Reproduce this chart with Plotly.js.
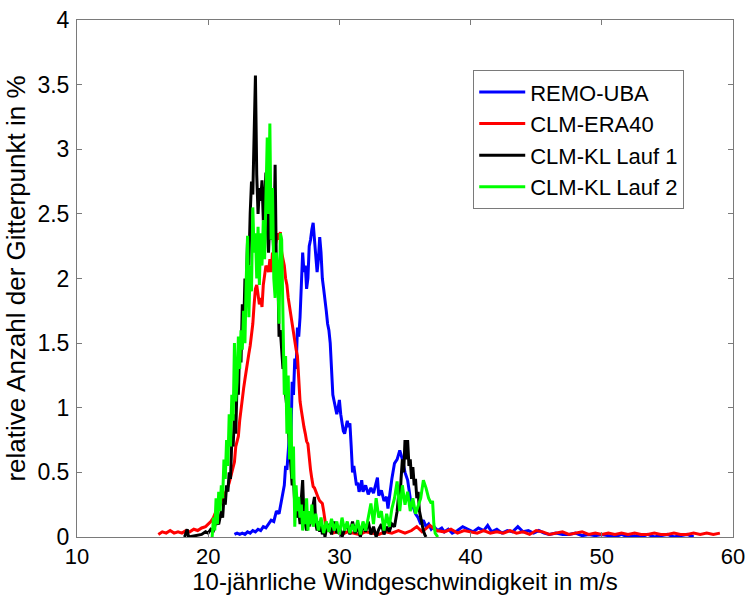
<!DOCTYPE html>
<html>
<head>
<meta charset="utf-8">
<script src="https://cdn.plot.ly/plotly-3.0.1.min.js"></script>
<style>html,body{margin:0;padding:0;background:#fff;}#chart{width:747px;height:595px;}</style>
</head>
<body>
<div id="chart"></div>
<script>
// ---- data ----
const seriesNames = ["REMO-UBA", "CLM-ERA40", "CLM-KL Lauf 1", "CLM-KL Lauf 2"];
const seriesColors = ["#0000FF", "#FF0000", "#000000", "#00FF00"];

const remoX = [22.0,22.2,22.4,22.6,22.8,23.0,23.2,23.4,23.6,23.8,24.0,24.2,24.4,24.6,24.8,25.0,25.2,25.4,25.6,25.8,25.9,26.0,26.2,26.3,26.4,26.5,26.6,26.7,26.8,26.9,27.0,27.1,27.2,27.3,27.4,27.5,27.6,27.7,27.8,27.9,28.0,28.1,28.2,28.3,28.4,28.5,28.6,28.7,28.8,28.9,29.0,29.1,29.2,29.3,29.4,29.5,29.6,29.7,29.8,29.9,30.0,30.1,30.2,30.3,30.4,30.5,30.6,30.7,30.8,30.9,31.0,31.1,31.2,31.3,31.4,31.5,31.6,31.7,31.8,32.0,32.2,32.4,32.6,32.8,32.9,33.0,33.2,33.4,33.6,33.7,33.8,34.0,34.2,34.4,34.6,34.8,35.0,35.2,35.4,35.6,35.8,36.0,36.2,36.4,36.6,36.8,37.0,37.2,37.5,37.8,38.0,38.3,38.6,39.0,39.4,39.8,40.2,40.6,41.0,41.3,41.6,42.0,42.4,42.8,43.2,43.6,44.0,44.4,44.8,45.2,45.6,46.0,46.5,47.0,47.5,48.0,48.5,49.0,49.5,50.0,50.5,51.0,51.5,52.0,52.5,53.0,53.5,54.0,55.0,55.5,56.5,57.0];
const remoY = [0.02,0.03,0.02,0.03,0.02,0.04,0.03,0.05,0.04,0.06,0.05,0.08,0.07,0.10,0.13,0.12,0.20,0.18,0.30,0.40,0.55,0.52,0.80,0.75,1.20,1.10,1.38,1.30,1.62,1.55,1.70,1.95,2.20,2.05,2.10,1.92,2.00,2.25,2.30,2.38,2.43,2.30,2.20,2.05,2.15,2.32,2.20,2.00,1.92,1.85,1.75,1.65,1.60,1.50,1.25,1.10,1.05,1.00,0.95,1.00,1.06,0.95,0.88,0.82,0.80,0.86,0.90,0.85,0.88,0.70,0.50,0.55,0.45,0.40,0.42,0.35,0.38,0.44,0.35,0.40,0.33,0.38,0.34,0.42,0.46,0.32,0.36,0.28,0.31,0.22,0.30,0.45,0.57,0.60,0.67,0.60,0.50,0.44,0.30,0.23,0.18,0.15,0.10,0.13,0.08,0.10,0.06,0.08,0.05,0.07,0.04,0.06,0.03,0.05,0.08,0.06,0.04,0.07,0.05,0.09,0.04,0.06,0.03,0.05,0.04,0.08,0.04,0.05,0.03,0.05,0.03,0.02,0.03,0.02,0.02,0.03,0.01,0.02,0.01,0.02,0.01,0.00,0.02,0.00,0.01,0.00,0.02,0.00,0.02,0.00,0.02,0.00];

const eraX = [16.2,16.5,16.8,17.1,17.4,17.7,18.0,18.3,18.6,18.9,19.2,19.5,19.8,20.0,20.2,20.4,20.6,20.8,21.0,21.2,21.4,21.6,21.8,22.0,22.1,22.2,22.3,22.4,22.5,22.6,22.7,22.8,22.9,23.0,23.1,23.2,23.3,23.4,23.5,23.6,23.7,23.8,23.9,24.0,24.1,24.2,24.3,24.4,24.5,24.6,24.7,24.8,24.9,25.0,25.1,25.2,25.3,25.4,25.5,25.6,25.7,25.8,25.9,26.0,26.1,26.2,26.3,26.4,26.5,26.6,26.7,26.8,26.9,27.0,27.1,27.2,27.3,27.4,27.5,27.6,27.7,27.8,27.9,28.0,28.1,28.2,28.3,28.4,28.5,28.6,28.7,28.8,28.9,29.0,29.2,29.5,29.8,30.2,30.6,31.0,31.5,32.0,32.5,33.0,33.5,34.0,34.5,35.0,35.5,35.9,36.3,36.9,37.4,38.0,38.5,39.0,39.5,40.0,40.5,41.0,41.5,42.0,42.5,43.0,43.5,44.0,44.5,45.0,45.5,46.0,46.5,47.0,47.5,48.0,48.5,49.0,49.5,50.0,50.5,51.0,51.5,52.0,52.5,53.0,53.5,54.0,54.5,55.0,55.5,56.0,56.5,57.0,57.5,58.0,58.5,59.0];
const eraY = [0.02,0.04,0.03,0.05,0.03,0.04,0.03,0.05,0.04,0.06,0.05,0.07,0.08,0.10,0.12,0.15,0.20,0.22,0.28,0.32,0.36,0.42,0.50,0.58,0.70,0.75,0.78,0.90,1.00,1.05,1.15,1.22,1.30,1.35,1.42,1.48,1.55,1.65,1.80,1.92,1.95,1.85,1.80,1.85,1.78,1.95,2.05,2.10,2.08,2.05,2.15,2.05,2.20,2.15,2.25,2.30,2.35,2.30,2.36,2.20,2.15,2.10,2.00,1.95,1.85,1.78,1.72,1.66,1.60,1.50,1.45,1.40,1.20,1.05,0.98,0.90,0.85,0.80,0.74,0.72,0.60,0.52,0.45,0.39,0.38,0.35,0.33,0.30,0.28,0.27,0.26,0.20,0.12,0.06,0.05,0.03,0.04,0.02,0.04,0.03,0.02,0.04,0.03,0.02,0.04,0.03,0.05,0.03,0.05,0.08,0.04,0.09,0.05,0.04,0.06,0.03,0.05,0.04,0.03,0.05,0.03,0.04,0.03,0.05,0.03,0.04,0.02,0.05,0.04,0.02,0.03,0.04,0.02,0.03,0.04,0.02,0.03,0.02,0.03,0.02,0.03,0.02,0.03,0.02,0.02,0.03,0.02,0.02,0.03,0.02,0.02,0.03,0.02,0.03,0.02,0.03];

const kl1X = [18.2,18.4,18.5,19.0,19.5,19.8,20.0,20.2,20.4,20.6,20.8,21.0,21.1,21.2,21.3,21.4,21.5,21.6,21.7,21.8,21.9,22.0,22.1,22.2,22.3,22.4,22.5,22.6,22.7,22.8,22.9,23.0,23.1,23.2,23.3,23.4,23.5,23.6,23.7,23.8,23.9,24.0,24.1,24.2,24.3,24.4,24.5,24.6,24.7,24.8,24.9,25.0,25.1,25.2,25.3,25.4,25.5,25.6,25.7,25.8,25.9,26.0,26.1,26.2,26.3,26.4,26.5,26.6,26.7,26.8,26.9,27.0,27.1,27.2,27.3,27.4,27.5,27.6,27.7,27.8,27.9,28.0,28.1,28.2,28.3,28.4,28.5,28.6,28.7,28.8,28.9,29.0,29.2,29.4,29.6,29.8,30.0,30.2,30.4,30.6,30.8,31.0,31.2,31.4,31.6,31.8,32.0,32.2,32.4,32.6,32.8,33.0,33.2,33.4,33.6,33.8,34.0,34.2,34.4,34.5,34.6,34.7,34.8,34.9,35.0,35.1,35.2,35.3,35.4,35.5,35.6,35.7,35.8,35.9,36.0,36.1,36.2,36.3,36.4,36.5,36.6];
const kl1Y = [0.00,0.06,0.00,0.01,0.02,0.04,0.03,0.06,0.05,0.12,0.10,0.20,0.15,0.30,0.25,0.40,0.35,0.50,0.45,0.75,0.70,0.95,0.80,1.20,1.10,1.50,1.35,1.80,1.60,2.00,1.90,2.30,2.10,2.50,2.75,2.65,3.10,3.57,2.80,2.50,2.70,2.60,2.76,2.45,2.60,2.82,2.40,2.20,2.50,2.30,2.40,2.20,2.88,2.05,2.10,1.55,1.60,1.40,1.30,1.35,1.10,1.00,0.80,0.70,0.55,0.40,0.45,0.25,0.30,0.15,0.20,0.10,0.30,0.44,0.15,0.10,0.05,0.15,0.08,0.20,0.10,0.25,0.31,0.10,0.05,0.12,0.04,0.10,0.02,0.08,0.00,0.06,0.10,0.02,0.12,0.03,0.08,0.00,0.06,0.10,0.02,0.12,0.03,0.08,0.00,0.10,0.04,0.12,0.02,0.08,0.00,0.06,0.10,0.02,0.08,0.04,0.10,0.08,0.20,0.31,0.25,0.45,0.60,0.50,0.75,0.60,0.75,0.55,0.60,0.45,0.54,0.40,0.45,0.30,0.35,0.20,0.15,0.08,0.05,0.02,0.00];

const kl2X = [20.3,20.4,20.5,20.6,20.7,20.8,20.9,21.0,21.1,21.2,21.3,21.4,21.5,21.6,21.7,21.8,21.9,22.0,22.1,22.2,22.3,22.4,22.5,22.6,22.7,22.8,22.9,23.0,23.1,23.2,23.3,23.4,23.5,23.6,23.7,23.8,23.9,24.0,24.1,24.2,24.3,24.4,24.5,24.6,24.7,24.8,24.9,25.0,25.1,25.2,25.3,25.4,25.5,25.6,25.7,25.8,25.9,26.0,26.1,26.2,26.3,26.4,26.5,26.6,26.7,26.8,26.9,27.0,27.1,27.2,27.3,27.4,27.5,27.6,27.7,27.8,27.9,28.0,28.2,28.4,28.6,28.8,29.0,29.2,29.4,29.6,29.8,30.0,30.2,30.4,30.6,30.8,31.0,31.2,31.4,31.6,31.8,32.0,32.2,32.4,32.6,32.8,33.0,33.2,33.4,33.6,33.8,34.0,34.2,34.4,34.6,34.8,35.0,35.2,35.4,35.6,35.8,36.0,36.2,36.4,36.6,36.8,37.0,37.1,37.2,37.3,37.5];
const kl2Y = [0.00,0.15,0.05,0.30,0.10,0.35,0.20,0.40,0.30,0.60,0.45,0.75,0.55,0.95,0.70,1.10,0.90,1.50,1.05,1.20,1.55,1.30,1.60,1.45,1.75,1.50,2.00,2.33,1.70,2.10,1.90,2.55,2.20,2.35,2.00,2.40,1.95,2.35,2.10,2.45,2.15,2.60,3.09,2.50,3.20,2.30,2.70,2.00,1.85,2.20,2.05,1.65,2.35,2.30,1.60,1.10,1.40,0.80,1.25,0.60,1.00,0.45,0.70,0.08,0.40,0.20,0.31,0.15,0.25,0.05,0.20,0.10,0.30,0.05,0.20,0.10,0.25,0.08,0.18,0.05,0.15,0.03,0.12,0.04,0.14,0.05,0.12,0.02,0.15,0.05,0.12,0.03,0.10,0.04,0.13,0.02,0.12,0.05,0.15,0.26,0.10,0.30,0.15,0.20,0.05,0.18,0.08,0.22,0.30,0.43,0.20,0.40,0.25,0.35,0.20,0.30,0.18,0.25,0.30,0.44,0.38,0.30,0.26,0.28,0.10,0.03,0.00];

const xTickVals = [10, 20, 30, 40, 50, 60];
const yTickVals = [0, 0.5, 1, 1.5, 2, 2.5, 3, 3.5, 4];
const yTickText = ["0", "0.5", "1", "1.5", "2", "2.5", "3", "3.5", "4"];
const xTitle = "10-jährliche Windgeschwindigkeit in m/s";
const yTitle = "relative Anzahl der Gitterpunkt in %";

const xs = [remoX, eraX, kl1X, kl2X];
const ys = [remoY, eraY, kl1Y, kl2Y];

const traces = seriesNames.map((n, i) => ({
  type: "scatter",
  mode: "lines",
  name: n,
  x: xs[i],
  y: ys[i],
  line: { color: seriesColors[i], width: 3 }
}));

const axisColor = "#7a7a7a";
const fontFam = "Arial, 'Liberation Sans', sans-serif";

const layout = {
  width: 747,
  height: 595,
  margin: { l: 77, r: 14, t: 20, b: 58, pad: 0 },
  paper_bgcolor: "#ffffff",
  plot_bgcolor: "#ffffff",
  font: { family: fontFam, color: "#000000", size: 22 },
  showlegend: true,
  legend: {
    x: 0.604, y: 0.903, xanchor: "left", yanchor: "top",
    bgcolor: "#ffffff", bordercolor: axisColor, borderwidth: 1,
    font: { family: fontFam, size: 22, color: "#000000" },
    itemwidth: 46,
    entrywidth: 160, entrywidthmode: "pixels",
    traceorder: "normal"
  },
  xaxis: {
    range: [10, 60],
    tickmode: "array", tickvals: xTickVals,
    ticks: "inside", ticklen: 5, tickcolor: axisColor, tickwidth: 1,
    showline: true, linecolor: axisColor, linewidth: 1, mirror: "ticks",
    showgrid: false, zeroline: false, automargin: false,
    tickfont: { size: 22, family: fontFam, color: "#000" },
    title: { text: xTitle, font: { size: 24, family: fontFam, color: "#000" }, standoff: 3 }
  },
  yaxis: {
    range: [0, 4],
    tickmode: "array", tickvals: yTickVals, ticktext: yTickText,
    ticks: "inside", ticklen: 5, tickcolor: axisColor, tickwidth: 1,
    showline: true, linecolor: axisColor, linewidth: 1, mirror: "ticks",
    showgrid: false, zeroline: false, automargin: false,
    ticklabelstandoff: 2,
    tickfont: { size: 23, family: fontFam, color: "#000" },
    title: { text: yTitle, font: { size: 26, family: fontFam, color: "#000" }, standoff: 4 }
  }
};

Plotly.newPlot("chart", traces, layout, { staticPlot: true, displayModeBar: false });
</script>
</body>
</html>
